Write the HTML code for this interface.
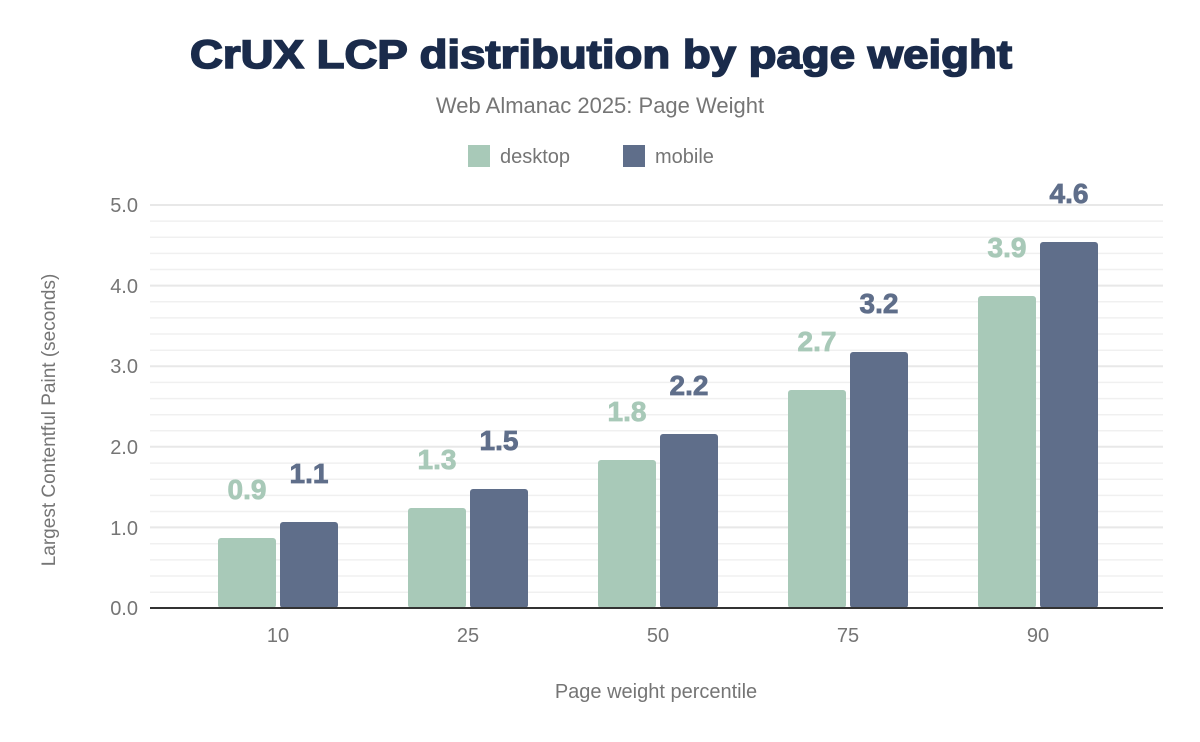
<!DOCTYPE html>
<html><head><meta charset="utf-8"><style>
body{margin:0;background:#fff;}
svg{display:block;font-family:"Liberation Sans",Arial,sans-serif;}
</style></head><body>
<svg width="1200" height="742" viewBox="0 0 1200 742">
<rect width="1200" height="742" fill="#fff"/>
<text x="190" y="68" textLength="822" lengthAdjust="spacingAndGlyphs" font-size="40" font-weight="bold" fill="#1a2b4b" stroke="#1a2b4b" stroke-width="1.6">CrUX LCP distribution by page weight</text>
<text x="600" y="113" text-anchor="middle" font-size="22" fill="#757575">Web Almanac 2025: Page Weight</text>
<rect x="468" y="145" width="22" height="22" fill="#a8c9b8"/>
<text x="500" y="163" font-size="20" fill="#757575">desktop</text>
<rect x="623" y="145" width="22" height="22" fill="#5f6e8a"/>
<text x="655" y="163" font-size="20" fill="#757575">mobile</text>
<g stroke="#f0f0f0" stroke-width="1.5">
<line x1="150" x2="1163" y1="221.1" y2="221.1"/><line x1="150" x2="1163" y1="237.2" y2="237.2"/><line x1="150" x2="1163" y1="253.4" y2="253.4"/><line x1="150" x2="1163" y1="269.5" y2="269.5"/>
<line x1="150" x2="1163" y1="301.8" y2="301.8"/><line x1="150" x2="1163" y1="317.9" y2="317.9"/><line x1="150" x2="1163" y1="334" y2="334"/><line x1="150" x2="1163" y1="350.2" y2="350.2"/>
<line x1="150" x2="1163" y1="382.4" y2="382.4"/><line x1="150" x2="1163" y1="398.6" y2="398.6"/><line x1="150" x2="1163" y1="414.7" y2="414.7"/><line x1="150" x2="1163" y1="430.8" y2="430.8"/>
<line x1="150" x2="1163" y1="463.1" y2="463.1"/><line x1="150" x2="1163" y1="479.2" y2="479.2"/><line x1="150" x2="1163" y1="495.4" y2="495.4"/><line x1="150" x2="1163" y1="511.5" y2="511.5"/>
<line x1="150" x2="1163" y1="543.8" y2="543.8"/><line x1="150" x2="1163" y1="559.9" y2="559.9"/><line x1="150" x2="1163" y1="576" y2="576"/><line x1="150" x2="1163" y1="592.2" y2="592.2"/>
</g>
<g stroke="#e8e8e8" stroke-width="2">
<line x1="150" x2="1163" y1="205" y2="205"/><line x1="150" x2="1163" y1="285.6" y2="285.6"/><line x1="150" x2="1163" y1="366.2" y2="366.2"/><line x1="150" x2="1163" y1="446.8" y2="446.8"/><line x1="150" x2="1163" y1="527.4" y2="527.4"/>
</g>
<g font-size="20" fill="#757575" text-anchor="end">
<text x="138" y="212">5.0</text><text x="138" y="293">4.0</text><text x="138" y="373">3.0</text><text x="138" y="454">2.0</text><text x="138" y="535">1.0</text><text x="138" y="615">0.0</text>
</g>
<text transform="translate(55,420) rotate(-90)" text-anchor="middle" font-size="19" fill="#757575">Largest Contentful Paint (seconds)</text>
<g fill="#a8c9b8">
<rect x="218" y="538" width="58" height="70" rx="3"/>
<rect x="408" y="508" width="58" height="100" rx="3"/>
<rect x="598" y="460" width="58" height="148" rx="3"/>
<rect x="788" y="390" width="58" height="218" rx="3"/>
<rect x="978" y="296" width="58" height="312" rx="3"/>
</g>
<g fill="#5f6e8a">
<rect x="280" y="522" width="58" height="86" rx="3"/>
<rect x="470" y="489" width="58" height="119" rx="3"/>
<rect x="660" y="434" width="58" height="174" rx="3"/>
<rect x="850" y="352" width="58" height="256" rx="3"/>
<rect x="1040" y="242" width="58" height="366" rx="3"/>
</g>
<line x1="150" x2="1163" y1="608" y2="608" stroke="#333" stroke-width="2"/>
<g font-size="28" font-weight="bold" text-anchor="middle" fill="#a8c9b8" stroke="#a8c9b8" stroke-width="0.8">
<text x="247" y="499">0.9</text><text x="437" y="469">1.3</text><text x="627" y="421">1.8</text><text x="817" y="351">2.7</text><text x="1007" y="257">3.9</text>
</g>
<g font-size="28" font-weight="bold" text-anchor="middle" fill="#5f6e8a" stroke="#5f6e8a" stroke-width="0.8">
<text x="309" y="483">1.1</text><text x="499" y="450">1.5</text><text x="689" y="395">2.2</text><text x="879" y="313">3.2</text><text x="1069" y="203">4.6</text>
</g>
<g font-size="20" fill="#757575" text-anchor="middle">
<text x="278" y="642">10</text><text x="468" y="642">25</text><text x="658" y="642">50</text><text x="848" y="642">75</text><text x="1038" y="642">90</text>
</g>
<text x="656" y="698" text-anchor="middle" font-size="20" fill="#757575">Page weight percentile</text>
</svg>
</body></html>
